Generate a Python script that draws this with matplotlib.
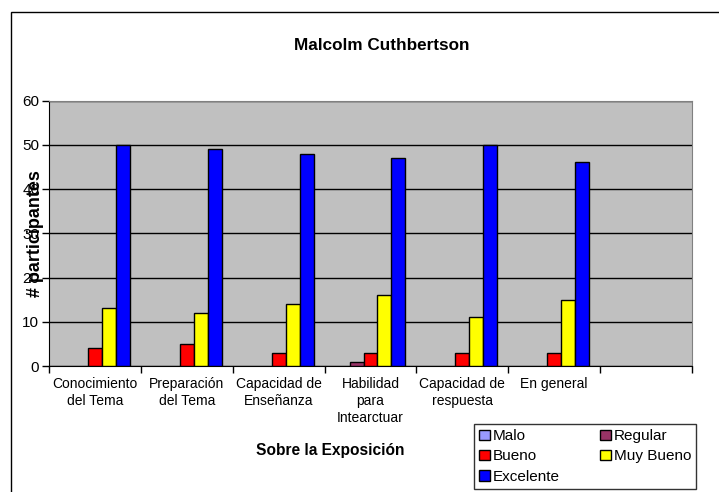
import numpy as np
import matplotlib.pyplot as plt
from matplotlib.patches import Rectangle

plt.rcParams['font.family'] = ['Liberation Sans', 'DejaVu Sans']

categories = ['Conocimiento\ndel Tema', 'Preparación\ndel Tema', 'Capacidad de\nEnseñanza',
              'Habilidad\npara\nIntearctuar', 'Capacidad de\nrespuesta', 'En general', '']
series_names = ['Malo', 'Regular', 'Bueno', 'Muy Bueno', 'Excelente']
malo = [0, 0, 0, 0, 0, 0, 0]
regular = [0, 0, 0, 1, 0, 0, 0]
bueno = [4, 5, 3, 3, 3, 3, 0]
muy_bueno = [13, 12, 14, 16, 11, 15, 0]
excelente = [50, 49, 48, 47, 50, 46, 0]
colors = ['#9999FF', '#993366', '#FF0000', '#FFFF00', '#0000FF']

fig = plt.figure(figsize=(7.19, 4.92), dpi=100)
ax = fig.add_axes([49 / 719, 1 - 366 / 492, (692 - 49) / 719, (366 - 100.5) / 492])
ax.set_facecolor('#C0C0C0')

# chart area border (runs off the right/bottom edge like the original)
fig.patches.append(Rectangle((11 / 719, -0.1), 1.0, 1 - 12 / 492 + 0.1,
                             transform=fig.transFigure, fill=False,
                             edgecolor='black', linewidth=1.0, zorder=0))

x = np.arange(len(categories))
w = 0.152
for i, vals in enumerate([malo, regular, bueno, muy_bueno, excelente]):
    vals = np.array(vals)
    b = ax.bar(x + (i - 2) * w, vals, width=w, color=colors[i], edgecolor='black',
               linewidth=1.0, zorder=3)
    for rect, v in zip(b, vals):
        if v == 0:
            rect.set_visible(False)

ax.set_xlim(-0.5, len(categories) - 0.5)
ax.set_ylim(0, 60)
ax.set_yticks(range(0, 61, 10))
ax.yaxis.grid(True, color='black', linewidth=1.0, zorder=1)
ax.set_axisbelow(True)

ax.set_xticks(x)
ax.set_xticklabels(categories, fontsize=10, linespacing=1.25)
ax.set_xticks(np.arange(-0.5, len(categories)), minor=True)
ax.tick_params(axis='x', which='major', length=0, pad=8)
ax.tick_params(axis='x', which='minor', length=5, width=1, direction='out')
ax.tick_params(axis='y', length=5, width=1, labelsize=11, pad=2)

for s in ['top', 'right']:
    ax.spines[s].set_color('#808080')
for s in ['left', 'bottom']:
    ax.spines[s].set_color('black')

fig.text(382 / 719, 1 - 45 / 492, 'Malcolm Cuthbertson', ha='center', va='center',
         fontsize=12.3, fontweight='bold')
fig.text(35 / 719, 1 - 234 / 492, '# participantes', ha='center', va='center',
         rotation=90, fontsize=13, fontweight='bold')
fig.text(330 / 719, 1 - 451 / 492, 'Sobre la Exposición', ha='center', va='center',
         fontsize=11.2, fontweight='bold')

# legend proxies, row-major order like the original
handles = [Rectangle((0, 0), 1, 1, facecolor=c, edgecolor='black', linewidth=1.0)
           for c in colors]
order = [0, 2, 4, 1, 3]
leg = fig.legend([handles[i] for i in order], [series_names[i] for i in order],
                 ncol=2, loc='upper left', bbox_to_anchor=(474 / 719, 1 - 424 / 492),
                 frameon=True, fancybox=False, edgecolor='black', fontsize=11,
                 handlelength=0.7, handleheight=0.7, handletextpad=0.2,
                 columnspacing=2.6, labelspacing=0.4, borderpad=0.35, borderaxespad=0)
leg.get_frame().set_linewidth(1.0)

fig.savefig('out.png', dpi=100)
